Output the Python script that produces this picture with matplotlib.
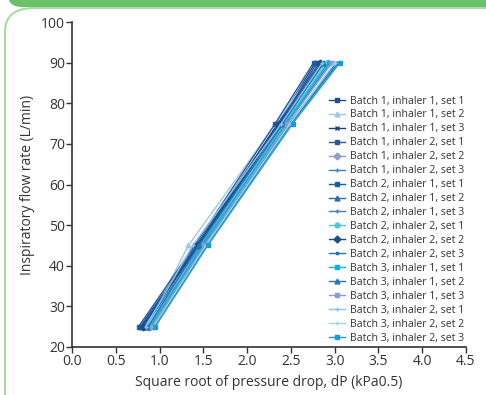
import matplotlib
matplotlib.use("Agg")
import matplotlib.pyplot as plt
from matplotlib.patches import FancyBboxPatch

plt.rcParams['font.family'] = ['Open Sans', 'DejaVu Sans']

flow = [25, 45, 75, 90]
labels = [f"Batch {b}, inhaler {i}, set {s}" for b in (1, 2, 3) for i in (1, 2) for s in (1, 2, 3)]
sqrt_dp = [
    [0.78, 1.42, 2.35, 2.78],
    [0.85, 1.33, 2.33, 2.82],
    [0.80, 1.45, 2.38, 2.85],
    [0.76, 1.40, 2.32, 2.76],
    [0.88, 1.48, 2.42, 2.92],
    [0.92, 1.52, 2.48, 3.02],
    [0.79, 1.43, 2.37, 2.80],
    [0.83, 1.47, 2.40, 2.88],
    [0.90, 1.50, 2.45, 2.95],
    [0.86, 1.46, 2.43, 2.90],
    [0.81, 1.44, 2.36, 2.83],
    [0.94, 1.54, 2.50, 3.04],
    [0.89, 1.49, 2.44, 2.93],
    [0.87, 1.45, 2.41, 2.87],
    [0.91, 1.51, 2.46, 2.97],
    [0.84, 1.38, 2.39, 2.86],
    [0.93, 1.53, 2.49, 3.00],
    [0.95, 1.55, 2.52, 3.06],
]
colors = ['#1f4e8c', '#9cc8ea', '#1a3f7a', '#2a5a9e', '#8f9fca', '#2e86c8',
          '#1060b0', '#2b6cb0', '#3a7cc6', '#4fc8dc', '#1b4f8a', '#1a72c0',
          '#00b4e6', '#2078b4', '#8c9ccc', '#8cc0e8', '#a0d8e0', '#1a9ad6']
markers = ['s', '^', 'x', 's', 'D', '+', 's', '^', '+', 'o', 'D', '.',
           's', '^', 's', '+', '+', 's']
xticks = [0.0, 0.5, 1.0, 1.5, 2.0, 2.5, 3.0, 3.5, 4.0, 4.5]
yticks = [20, 30, 40, 50, 60, 70, 80, 90, 100]

fig = plt.figure(figsize=(4.86, 3.95), dpi=100)
W, H = 486, 395

# decorative frame
frame = FancyBboxPatch((5 / W, -0.2), 1.2, (H - 8) / H + 0.2,
                       boxstyle="round,pad=0,rounding_size=0.06",
                       transform=fig.transFigure, facecolor='none',
                       edgecolor='#a8dca0', linewidth=1.5, zorder=0)
fig.patches.append(frame)
bar = FancyBboxPatch((8 / W, (H - 7) / H), 1.2, 0.2,
                     boxstyle="round,pad=0,rounding_size=0.03",
                     transform=fig.transFigure, facecolor='#6cc06a',
                     edgecolor='none', zorder=1)
fig.patches.append(bar)

ax = fig.add_axes([72 / W, 1 - 347 / H, (466 - 72) / W, (347 - 22) / H])
ax.set_zorder(3)
ax.patch.set_alpha(0)
for lab, xs, c, m in zip(labels, sqrt_dp, colors, markers):
    ax.plot(xs, flow, color=c, marker=m, markersize=3.5, linewidth=1.0,
            markeredgewidth=1, label=lab)

ax.set_xlim(0, 4.5)
ax.set_ylim(20, 100)
ax.set_xticks(xticks)
ax.set_xticklabels([f"{t:.1f}" for t in xticks])
ax.set_yticks(yticks)
for s in ['top', 'right']:
    ax.spines[s].set_visible(False)
for s in ['left', 'bottom']:
    ax.spines[s].set_color('#333333')
    ax.spines[s].set_linewidth(1.2)
ax.tick_params(direction='out', length=4, width=1, colors='#333333',
               labelsize=10, labelcolor='#333333', pad=1)
ax.set_xlabel("Square root of pressure drop, dP (kPa0.5)", fontsize=10, color='#333333', labelpad=4)
ax.set_ylabel("Inspiratory flow rate (L/min)", fontsize=10, color='#333333', labelpad=4)

leg = ax.legend(loc='lower left', bbox_to_anchor=(0.641, -0.003), frameon=False,
                fontsize=7.6, handlelength=1.5, handletextpad=0.47,
                labelspacing=0.28, borderaxespad=0)
for t in leg.get_texts():
    t.set_color('#333333')

fig.savefig("out.png", dpi=100)
